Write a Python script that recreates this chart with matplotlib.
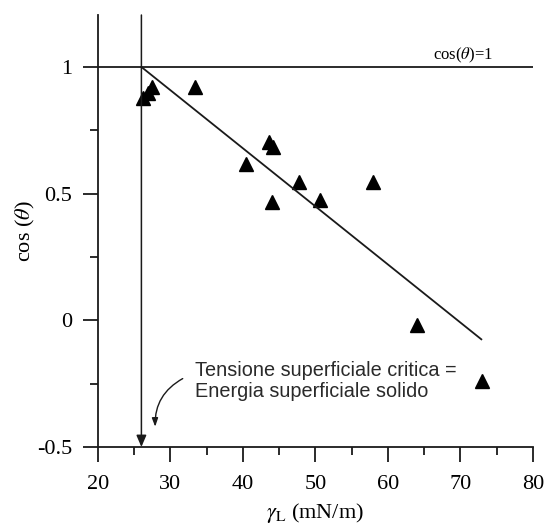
import matplotlib
matplotlib.use('Agg')
import matplotlib.pyplot as plt

plt.rcParams['font.family'] = 'Liberation Serif'
plt.rcParams['mathtext.fontset'] = 'stix'
plt.rcParams['axes.unicode_minus'] = False

# dati
gamma_L = [26.2, 26.9, 27.4, 33.4, 40.5, 43.6, 44.1, 44.0, 47.7, 50.6, 57.9, 64.0, 73.0]
cos_theta = [0.878, 0.897, 0.921, 0.921, 0.617, 0.704, 0.684, 0.468, 0.546, 0.475, 0.546, -0.017, -0.24]

# retta di Zisman
fit_x = [26.0, 72.9]
fit_y = [1.0, -0.075]

gamma_c = 26.0
x_ticks = [20, 30, 40, 50, 60, 70, 80]
y_ticks = [-0.5, 0, 0.5, 1]
y_ticklabels = ['-0.5', '0', '0.5', '1']

ink = '#1a1a1a'

fig = plt.figure(figsize=(5.47, 5.25), dpi=100)
ax = fig.add_axes([0.179, 0.1486, 0.795, 0.8228])

ax.set_xlim(20, 80)
ax.set_ylim(-0.5, 1.205)

ax.plot(gamma_L, cos_theta, linestyle='none', marker='^', markersize=9.5, color='black')
ax.plot(fit_x, fit_y, color=ink, linewidth=1.3)
ax.plot([20, 80], [1, 1], color=ink, linewidth=1.3)
ax.text(66.2, 1.008, r'cos($\theta$)=1', fontsize=12, ha='left', va='bottom')

# linea verticale con freccia
ax.annotate('', xy=(gamma_c, -0.5), xytext=(gamma_c, 1.205),
            arrowprops=dict(arrowstyle='-|>,head_length=0.7,head_width=0.3',
                            color=ink, linewidth=1.1, shrinkA=0, shrinkB=0))

ax.text(33.4, -0.16, 'Tensione superficiale critica =\nEnergia superficiale solido',
        fontsize=14.3, family='Liberation Sans', ha='left', va='top',
        linespacing=1.15, color='#2a2a2a')
ax.annotate('', xy=(27.9, -0.42), xytext=(31.7, -0.23),
            arrowprops=dict(arrowstyle='-|>,head_length=0.5,head_width=0.18',
                            color=ink, linewidth=1.0, shrinkA=0, shrinkB=0,
                            connectionstyle='arc3,rad=0.3'))

ax.spines['top'].set_visible(False)
ax.spines['right'].set_visible(False)
for s in ['left', 'bottom']:
    ax.spines[s].set_linewidth(1.3)
    ax.spines[s].set_color(ink)

ax.set_xticks(x_ticks)
ax.set_xticks([25, 35, 45, 55, 65, 75], minor=True)
ax.set_yticks(y_ticks)
ax.set_yticklabels(y_ticklabels)
ax.set_yticks([-0.25, 0.25, 0.75], minor=True)
ax.tick_params(which='major', length=11, width=1.3, color=ink, labelsize=16)
ax.tick_params(which='minor', length=6, width=1.3, color=ink)
ax.tick_params(axis='x', which='major', pad=9)
ax.tick_params(axis='y', which='major', pad=7.5)

ax.set_xlabel(r'$\gamma_{\rm L}$ (mN/m)', fontsize=16, labelpad=5)
ax.set_ylabel(r'cos ($\theta$)', fontsize=16, labelpad=0)

fig.savefig('out.png', dpi=100)
